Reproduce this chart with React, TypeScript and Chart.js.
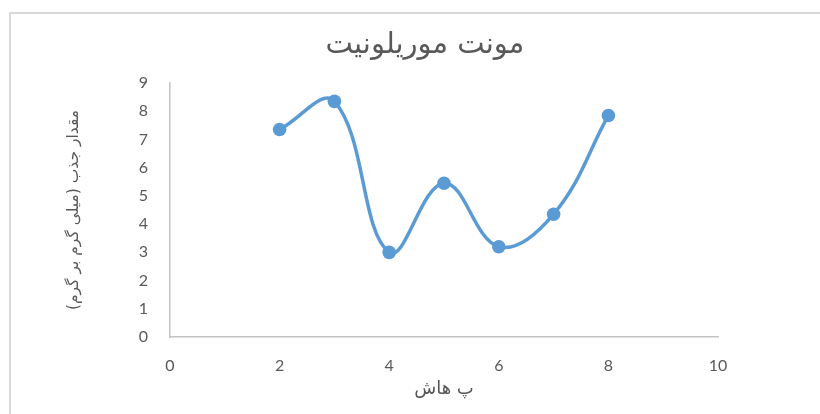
import React, { useEffect, useRef } from "react";
import { Chart, registerables } from "chart.js";

Chart.register(...registerables);

const chartTitle = "مونت موریلونیت";
const xAxisTitle = "پ هاش";
const yAxisTitle = "مقدار جذب (میلی گرم بر گرم)";
const phValues = [2, 3, 4, 5, 6, 7, 8];
const adsorption = [7.35, 8.35, 3.0, 5.45, 3.2, 4.35, 7.85];
const xMin = 0, xMax = 10, xStep = 2;
const yMin = 0, yMax = 9, yStep = 1;

const ARABIC_FONT = '"DejaVu Sans", sans-serif';
const NUM_FONT = 'Lato, "Open Sans", sans-serif';
const TEXT_COLOR = "#595959";
const LINE_COLOR = "#5b9bd5";

const framePlugin = {
  id: "frameAndTitle",
  beforeDraw(chart: any) {
    const ctx = chart.ctx;
    ctx.save();
    ctx.fillStyle = "#ffffff";
    ctx.fillRect(0, 0, chart.width, chart.height);
    ctx.strokeStyle = "#d9d9d9";
    ctx.lineWidth = 2;
    ctx.beginPath();
    ctx.moveTo(10, chart.height);
    ctx.lineTo(10, 13);
    ctx.lineTo(chart.width, 13);
    ctx.stroke();
    ctx.restore();
  },
  afterDraw(chart: any) {
    const ctx = chart.ctx;
    ctx.save();
    ctx.font = `29px ${ARABIC_FONT}`;
    ctx.fillStyle = TEXT_COLOR;
    ctx.textAlign = "center";
    ctx.textBaseline = "middle";
    ctx.fillText(chartTitle, 425, 45);
    ctx.restore();
  },
};

export default function App() {
  const canvasRef = useRef<HTMLCanvasElement | null>(null);

  useEffect(() => {
    if (!canvasRef.current) return;
    const data = phValues.map((x, i) => ({ x, y: adsorption[i] }));
    const chart = new Chart(canvasRef.current, {
      type: "scatter",
      data: {
        datasets: [
          {
            data,
            showLine: true,
            borderColor: LINE_COLOR,
            backgroundColor: LINE_COLOR,
            borderWidth: 3.5,
            pointRadius: 6.8,
            pointHoverRadius: 6.8,
            pointBorderWidth: 0,
            tension: 0.4,
          },
        ],
      },
      options: {
        animation: false,
        responsive: false,
        layout: { padding: { left: 55, right: 102, top: 83, bottom: 0 } },
        plugins: {
          legend: { display: false },
          tooltip: { enabled: false },
          title: { display: false },
        },
        scales: {
          x: {
            type: "linear",
            min: xMin,
            max: xMax,
            afterFit: (s: any) => {
              s.height = 77;
            },
            grid: { display: false, drawTicks: false },
            border: { display: true, color: "#c4c4c4", width: 1.5 },
            ticks: {
              stepSize: xStep,
              padding: 19,
              color: TEXT_COLOR,
              font: { family: NUM_FONT, size: 16 },
            },
            title: {
              display: true,
              text: xAxisTitle,
              color: TEXT_COLOR,
              font: { family: ARABIC_FONT, size: 18 },
              padding: { top: 2, bottom: 14 },
            },
          },
          y: {
            type: "linear",
            min: yMin,
            max: yMax,
            afterFit: (s: any) => {
              s.width = 115;
            },
            grid: { display: false, drawTicks: false },
            border: { display: true, color: "#c4c4c4", width: 1.5 },
            ticks: {
              stepSize: yStep,
              padding: 22,
              color: TEXT_COLOR,
              font: { family: NUM_FONT, size: 16 },
            },
            title: {
              display: true,
              text: yAxisTitle,
              color: TEXT_COLOR,
              font: { family: ARABIC_FONT, size: 15.5 },
              padding: { top: 10, bottom: 4 },
            },
          },
        },
      },
      plugins: [framePlugin],
    });
    return () => chart.destroy();
  }, []);

  return (
    <div style={{ position: "absolute", left: 0, top: 0, width: 820, height: 414, overflow: "hidden" }}>
      <canvas ref={canvasRef} width={820} height={414} style={{ width: 820, height: 414, display: "block" }} />
    </div>
  );
}
